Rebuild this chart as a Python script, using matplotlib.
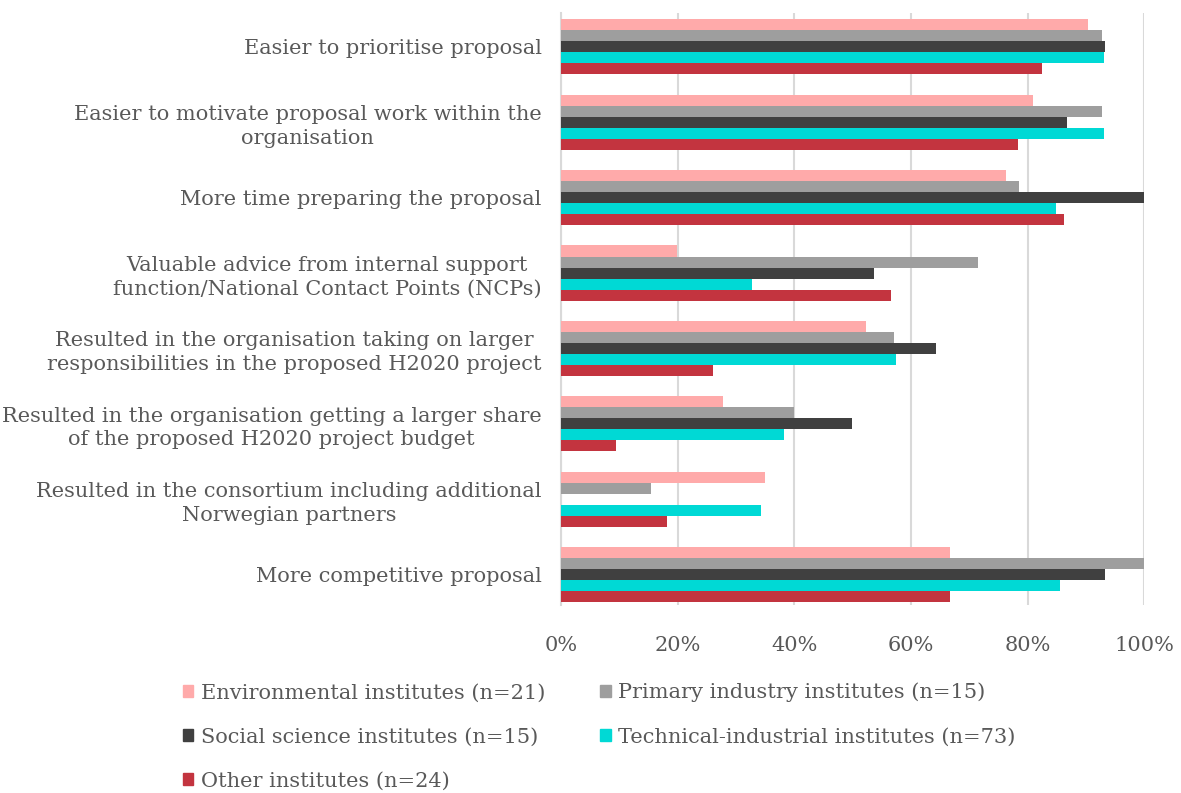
import numpy as np
import matplotlib
matplotlib.use("Agg")
import matplotlib.pyplot as plt
from matplotlib.patches import Patch

# categories (top to bottom)
categories = [
    "Easier to prioritise proposal",
    "Easier to motivate proposal work within the\norganisation",
    "More time preparing the proposal",
    "Valuable advice from internal support\nfunction/National Contact Points (NCPs)",
    "Resulted in the organisation taking on larger\nresponsibilities in the proposed H2020 project",
    "Resulted in the organisation getting a larger share\nof the proposed H2020 project budget",
    "Resulted in the consortium including additional\nNorwegian partners",
    "More competitive proposal",
]

series_names = [
    "Environmental institutes (n=21)",
    "Primary industry institutes (n=15)",
    "Social science institutes (n=15)",
    "Technical-industrial institutes (n=73)",
    "Other institutes (n=24)",
]

environmental = [0.904, 0.809, 0.762, 0.199, 0.523, 0.277, 0.349, 0.666]
primary = [0.928, 0.928, 0.785, 0.714, 0.571, 0.400, 0.154, 1.000]
social = [0.933, 0.867, 1.000, 0.537, 0.642, 0.499, 0.0, 0.933]
technical = [0.931, 0.930, 0.849, 0.328, 0.575, 0.382, 0.342, 0.856]
other = [0.825, 0.783, 0.863, 0.565, 0.260, 0.095, 0.182, 0.666]

colors = ["#FFAAAA", "#9E9E9E", "#404040", "#00D9D5", "#C3343F"]
text_col = "#595959"
font = "DejaVu Serif"

plt.rcParams["font.family"] = font

fig = plt.figure(figsize=(11.81, 7.93), dpi=100)
ax = fig.add_axes([0.475, 0.237, 0.494, 0.747])

all_series = [environmental, primary, social, technical, other]
y = np.arange(len(categories))
h = 0.146
for i, (vals, c) in enumerate(zip(all_series, colors)):
    ax.barh(y + (i - 2) * h, vals, height=h, color=c, label=series_names[i], zorder=3)

ax.set_xlim(0, 1)
ax.set_ylim(7.40, -0.45)
ax.set_xticks(np.arange(0, 1.01, 0.2))
ax.set_xticklabels([f"{int(round(v * 100))}%" for v in np.arange(0, 1.01, 0.2)])
ax.set_yticks(y)
ax.set_yticklabels(categories, multialignment="center", linespacing=1.3)
ax.tick_params(axis="both", length=0, labelsize=15, colors=text_col)
ax.tick_params(axis="x", pad=22)
ax.tick_params(axis="y", pad=14)
ax.grid(axis="x", color="#D9D9D9", linewidth=1.5, zorder=0)
for s in ["top", "right", "bottom"]:
    ax.spines[s].set_visible(False)
ax.spines["left"].set_color("#D9D9D9")
ax.spines["left"].set_linewidth(1.5)

handles = [Patch(color=c) for c in colors]
order = [0, 2, 4, 1, 3]
leg = fig.legend([handles[i] for i in order], [series_names[i] for i in order],
                 ncol=2, loc="upper left", bbox_to_anchor=(0.155, 0.139),
                 frameon=False, fontsize=15, handlelength=0.5, handleheight=0.5,
                 handletextpad=0.35, labelspacing=1.2, columnspacing=2.65,
                 borderpad=0, borderaxespad=0)
for t in leg.get_texts():
    t.set_color(text_col)

fig.savefig("out.png", dpi=100)
